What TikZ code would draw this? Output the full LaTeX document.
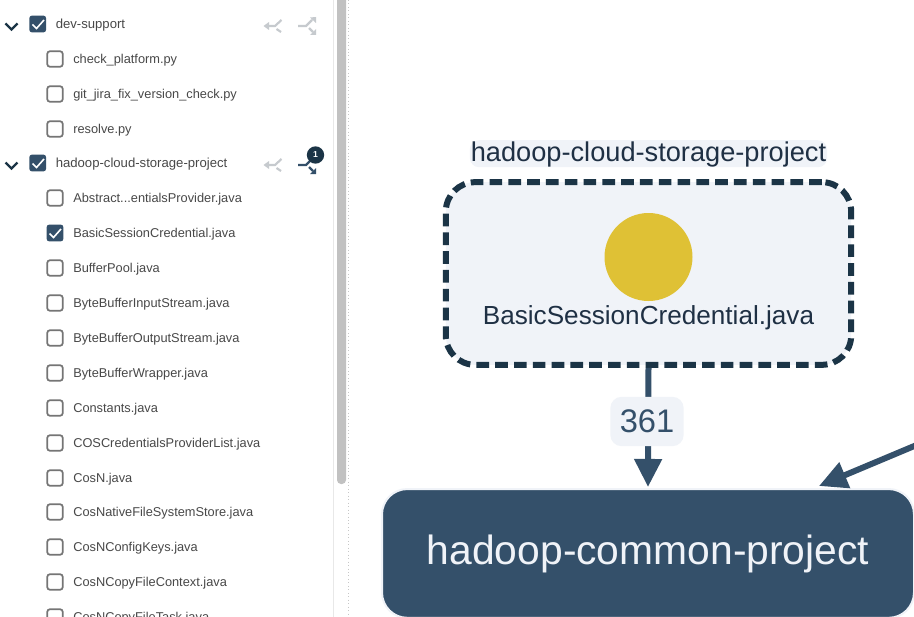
\documentclass[tikz,border=0pt]{standalone}
\usepackage{fontspec}
\setmainfont{Liberation Sans}
\usetikzlibrary{arrows.meta}
\definecolor{navy}{HTML}{34506A}
\definecolor{darknavy}{HTML}{1B3446}
\definecolor{halo}{HTML}{F0F3F8}
\definecolor{goldc}{HTML}{DFC135}
\definecolor{labelc}{HTML}{1F3044}
\definecolor{sidetext}{HTML}{484848}
\definecolor{boxgray}{HTML}{757575}
\definecolor{icongray}{HTML}{C6CACE}
\definecolor{scrollc}{HTML}{C1C1C1}
\newcommand\absfile{Abstract...entialsProvider.java}
\tikzset{
  x=0.75pt,y=-0.75pt,
  rowtext/.style={anchor=west,inner sep=0pt,text=sidetext,font=\fontsize{9.6}{11}\selectfont},
  toptext/.style={rowtext,font=\fontsize{9.85}{11}\selectfont},
  uncheckedbox/.style={draw=boxgray,line width=1.3pt,fill=white,rounded corners=1.8pt,minimum size=11.5pt,inner sep=0pt},
  checkedbox/.style={fill=navy,rounded corners=2pt,minimum size=12.6pt,inner sep=0pt},
  chevron/.style={draw=darknavy,line width=1.6pt},
  tickw/.style={draw=white,line width=1.2pt},
  icong/.style={draw=icongray,line width=1.6pt},
  icond/.style={draw=navy,line width=1.6pt},
  edgeline/.style={draw=navy,line width=4.5pt,-{Triangle[length=21pt,width=20pt]}},
}
\begin{document}
\begin{tikzpicture}
\clip (0,0) rectangle (914,617);
\fill[white] (0,0) rectangle (914,617);
% panel separators
\draw[color=black!9,line width=0.8pt] (333.5,0) -- (333.5,617);
\fill[scrollc,rounded corners=3pt] (337,-10) rectangle (346,484);
\draw[color=black!22,line width=0.6pt,dotted] (348.5,0) -- (348.5,617);
% top-level rows
\foreach \yy/\nm/\txt in {24/a/dev-support,163/b/hadoop-cloud-storage-project}{
  \draw[chevron] (5.5,\yy-0.5) -- (11.5,\yy+5.5) -- (17.5,\yy-0.5);
  \node[checkedbox] (chk\nm) at (37.7,\yy) {};
  \draw[tickw] (32.5,\yy+0.5) -- (36.5,\yy+4.5) -- (44,\yy-4);
  \node[toptext] (top\nm) at (55.5,\yy+1.5) {\txt};
}
% file rows
\foreach \yy/\nm/\txt in {
  59/c/check\_platform.py,94/d/git\_jira\_fix\_version\_check.py,129/e/resolve.py,
  198/f/\absfile,268/h/BufferPool.java,
  303/i/ByteBufferInputStream.java,338/j/ByteBufferOutputStream.java,373/k/ByteBufferWrapper.java,
  408/l/Constants.java,443/m/COSCredentialsProviderList.java,478/n/CosN.java,
  512/o/CosNativeFileSystemStore.java,547/p/CosNConfigKeys.java,582/q/CosNCopyFileContext.java,
  617/r/CosNCopyFileTask.java}{
  \node[uncheckedbox] (box\nm) at (55,\yy) {};
  \node[rowtext] (file\nm) at (73,\yy+1.2) {\txt};
}
\node[checkedbox] (boxg) at (55,233) {};
\draw[tickw] (49.5,233.5) -- (53.5,237.5) -- (61,229);
\node[rowtext] (fileg) at (73,234.2) {BasicSessionCredential.java};
% merge icons
\foreach \yy in {26,165}{
  \draw[icong] (266,\yy) -- (275,\yy) -- (281.5,\yy-6);
  \draw[icong] (276.5,\yy+3) -- (281,\yy+6);
  \fill[icongray] (263.5,\yy) -- (269,\yy-4) -- (269,\yy+4) -- cycle;
}
\draw[icong] (298,26) -- (306,26) -- (312,20);
\fill[icongray] (316,17) -- (316,23) -- (310,17.5) -- cycle;
\draw[icong] (309,28) -- (313,32);
\fill[icongray] (316,35) -- (310,35) -- (316,29) -- cycle;
\draw[icond] (298,165) -- (306,165) -- (311,160);
\draw[icond] (309,167) -- (313,171);
\fill[navy] (316,174) -- (310,174) -- (316,168) -- cycle;
\node[circle,fill=darknavy,minimum size=13pt,inner sep=0pt,text=white,font=\bfseries\fontsize{6.5}{7}\selectfont] (badge) at (315.5,155) {1};
% diagram
\node[anchor=base,fill=halo,rounded corners=7pt,minimum width=268pt,text height=15.75pt,text depth=4.5pt,inner sep=0pt,text=labelc,font=\fontsize{20.4}{24}\selectfont] (grouplabel) at (648.5,161.2) {hadoop-cloud-storage-project};
\node[draw=darknavy,fill=halo,line width=4.5pt,dash pattern=on 9.5pt off 4.6pt,rounded corners=22pt,minimum width=304pt,minimum height=137pt,inner sep=0pt] (group) at (648.5,273.5) {};
\node[circle,fill=goldc,minimum size=66pt,inner sep=0pt] (dot) at (648.5,257) {};
\node[inner sep=0pt,text=labelc,font=\fontsize{19.6}{22}\selectfont] (filelabel) at (648.5,317.5) {BasicSessionCredential.java};
\node[anchor=base,draw=halo,fill=navy,line width=1.5pt,rounded corners=19pt,minimum width=399pt,text height=56.6pt,text depth=40pt,inner sep=0pt,text=halo,font=\fontsize{30.6}{36}\selectfont] (common) at (648,564.5) {hadoop-common-project};
\coordinate (offpage) at (925,441.5);
\coordinate (commonin) at (819,486);
\draw[edgeline,shorten >=0.8pt] (group.south) -- (common.north);
\draw[edgeline] (offpage) -- (commonin);
\node[fill=halo,rounded corners=8.5pt,minimum width=55pt,minimum height=37pt,inner sep=0pt,text=navy,font=\fontsize{24.5}{28}\selectfont] (count) at (647,421.5) {361};
\end{tikzpicture}
\end{document}
